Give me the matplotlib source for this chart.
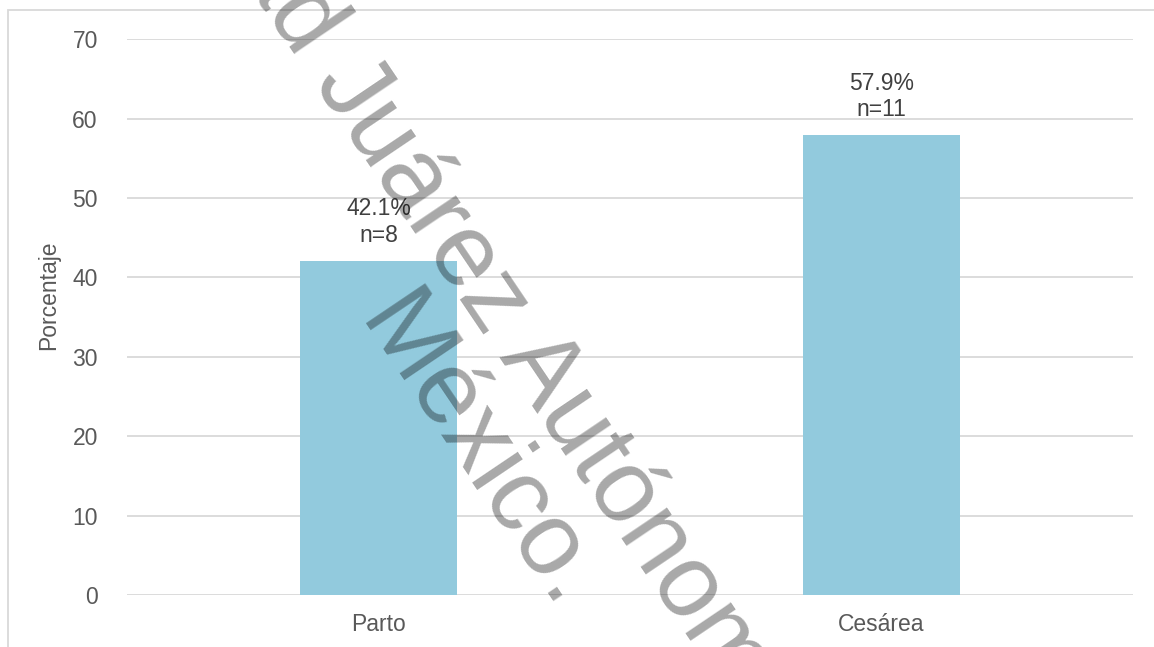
import matplotlib
matplotlib.use('Agg')
import matplotlib.pyplot as plt
from matplotlib.patches import Rectangle

categorias = ['Parto', 'Cesárea']
porcentaje = [42.1, 57.9]
n_casos = [8, 11]
yticks = [0, 10, 20, 30, 40, 50, 60, 70]

plt.rcParams['font.family'] = ['Liberation Sans', 'DejaVu Sans']

W, H = 1154, 647
fig = plt.figure(figsize=(W / 100, H / 100), dpi=100)
fig.patch.set_facecolor('white')

# marco exterior del grafico
fig.patches.append(Rectangle((8 / W, -0.1), 1.2, 1 - 10 / H + 0.1,
                             transform=fig.transFigure, fill=False,
                             ec='#D9D9D9', lw=1.3, zorder=0))

ax = fig.add_axes([127 / W, 1 - 595 / H, (1133 - 127) / W, (595 - 39.3) / H])
x = range(len(categorias))
bars = ax.bar(x, porcentaje, width=0.312, color='#92CADD', zorder=2)

ax.set_xlim(-0.5, 1.5)
ax.set_ylim(0, 70)
ax.set_yticks(yticks)
ax.set_xticks(list(x))
ax.set_xticklabels(categorias)
ax.tick_params(length=0, labelsize=16.5, colors='#595959')
ax.tick_params(axis='y', pad=21)
ax.tick_params(axis='x', pad=13)
for s in ax.spines.values():
    s.set_visible(False)
ax.grid(axis='y', color='#D9D9D9', lw=1.3, zorder=1)
ax.set_axisbelow(True)

for b, p, n in zip(bars, porcentaje, n_casos):
    ax.annotate('%.1f%%\nn=%d' % (p, n), (b.get_x() + b.get_width() / 2, p),
                xytext=(0, 10), textcoords='offset points', ha='center',
                va='bottom', fontsize=16.5, color='#404040', linespacing=1.2)

fig.text(49 / W, 1 - 295 / H, 'Porcentaje', rotation=90, ha='center',
         va='center', fontsize=16.5, color='#595959')

# marca de agua
wm = dict(rotation=-56, rotation_mode='anchor', va='baseline', fontsize=74,
          color='black', alpha=0.34, zorder=10)
fig.text(485 / W, 1 - 338 / H, 'Universidad Juárez', ha='right', **wm)
fig.text(485 / W, 1 - 338 / H, ' Autónoma de Tabasco', ha='left', **wm)
fig.text(356 / W, 1 - 322 / H, 'México.', ha='left', **wm)

plt.savefig('out.png', dpi=100)
